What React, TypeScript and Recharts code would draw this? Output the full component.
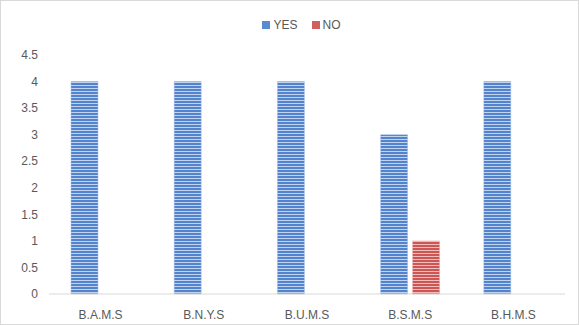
import { BarChart, Bar, XAxis, YAxis } from 'recharts';

const courses = ['B.A.M.S', 'B.N.Y.S', 'B.U.M.S', 'B.S.M.S', 'B.H.M.S'];
const yesValues = [4, 4, 4, 3, 4];
const noValues = [0, 0, 0, 1, 0];
const yTicks = [0, 0.5, 1, 1.5, 2, 2.5, 3, 3.5, 4, 4.5];

const data = courses.map((c, i) => ({ course: c, YES: yesValues[i], NO: noValues[i] }));

const FONT = '"Liberation Sans", "Open Sans", sans-serif';

export default function App() {
  return (
    <div
      style={{
        position: 'absolute',
        left: 0,
        top: 0,
        width: 579,
        height: 325,
        boxSizing: 'border-box',
        border: '1px solid #d9d9d9',
        background: '#fff',
        fontFamily: FONT,
      }}
    >
      {/* legend, drawn above the plot like the Excel original */}
      <div
        style={{
          position: 'absolute',
          top: 17,
          left: 12,
          width: 577,
          display: 'flex',
          justifyContent: 'center',
          gap: 14,
          fontSize: 12,
          color: '#595959',
        }}
      >
        <span style={{ display: 'flex', alignItems: 'center', gap: 3 }}>
          <span style={{ width: 8, height: 8, background: '#5a8ad0', display: 'inline-block' }} />
          YES
        </span>
        <span style={{ display: 'flex', alignItems: 'center', gap: 3 }}>
          <span style={{ width: 8, height: 8, background: '#d0605d', display: 'inline-block' }} />
          NO
        </span>
      </div>
      <div style={{ position: 'absolute', left: -1, top: -1 }}>
        <BarChart
          width={579}
          height={325}
          data={data}
          margin={{ top: 55, right: 14, bottom: 0, left: 1 }}
          barSize={27}
          barGap={5}
        >
          <defs>
            <pattern id="stripeBlue" patternUnits="userSpaceOnUse" width={4} height={3}>
              <rect width={4} height={3} fill="#5283cc" />
              <rect y={1} width={4} height={1} fill="#c2d3ee" />
            </pattern>
            <pattern id="stripeRed" patternUnits="userSpaceOnUse" width={4} height={3}>
              <rect width={4} height={3} fill="#cc5653" />
              <rect y={1} width={4} height={1} fill="#efbdbb" />
            </pattern>
          </defs>
          <XAxis
            dataKey="course"
            height={31}
            tickLine={false}
            tickSize={0}
            tickMargin={16}
            axisLine={{ stroke: '#d9d9d9', strokeWidth: 1 }}
            tick={{ fontSize: 12, fill: '#595959', fontFamily: FONT }}
          />
          <YAxis
            width={48}
            domain={[0, 4.5]}
            ticks={yTicks}
            interval={0}
            axisLine={false}
            tickLine={false}
            tickSize={0}
            tickMargin={11}
            tick={{ fontSize: 12, fill: '#595959', fontFamily: FONT }}
          />
          <Bar dataKey="YES" fill="url(#stripeBlue)" stroke="#a5bfe6" strokeWidth={0.5} isAnimationActive={false} />
          <Bar dataKey="NO" fill="url(#stripeRed)" stroke="#e8a9a7" strokeWidth={0.5} isAnimationActive={false} />
        </BarChart>
      </div>
    </div>
  );
}
